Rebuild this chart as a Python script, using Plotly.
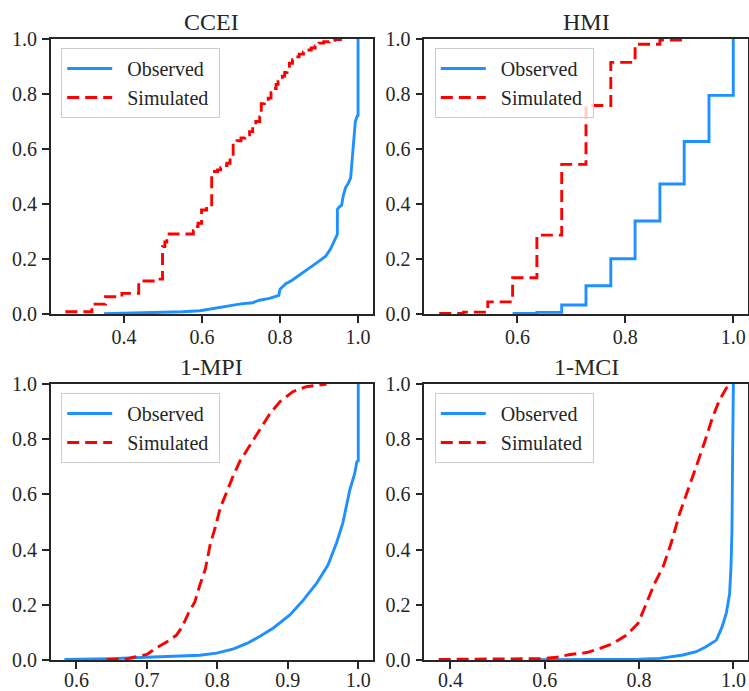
import plotly.graph_objects as go

W, H = 749, 691

# ---------------- data ----------------
titles = ["CCEI", "HMI", "1-MPI", "1-MCI"]
series_names = ["Observed", "Simulated"]

ccei_obs_x = [0.349, 0.45, 0.55, 0.595, 0.62, 0.66, 0.68, 0.70, 0.73, 0.747, 0.773, 0.797, 0.800,
              0.815, 0.83, 0.849, 0.866, 0.883, 0.90, 0.917, 0.93, 0.938, 0.947, 0.947, 0.951,
              0.958, 0.962, 0.968, 0.975, 0.981, 0.985, 0.989, 0.993, 0.998, 1.0, 1.0]
ccei_obs_y = [0.001, 0.004, 0.008, 0.012, 0.018, 0.027, 0.033, 0.037, 0.041, 0.050, 0.057, 0.068, 0.090,
              0.110, 0.122, 0.140, 0.157, 0.175, 0.192, 0.210, 0.238, 0.265, 0.290, 0.380, 0.388,
              0.396, 0.430, 0.460, 0.475, 0.495, 0.560, 0.650, 0.700, 0.720, 0.722, 1.0]

ccei_sim_x = [0.250, 0.318, 0.353, 0.395, 0.438, 0.475, 0.499, 0.505, 0.510, 0.516, 0.578, 0.585,
              0.590, 0.599, 0.612, 0.625, 0.632, 0.640, 0.648, 0.656, 0.664, 0.672, 0.680, 0.690,
              0.700, 0.710, 0.722, 0.730, 0.738, 0.748, 0.752, 0.760, 0.770, 0.777, 0.783, 0.790,
              0.795, 0.800, 0.806, 0.812, 0.818, 0.824, 0.832, 0.840, 0.849, 0.860, 0.870, 0.880,
              0.890, 0.900, 0.912, 0.926, 0.940, 0.955]
ccei_sim_y = [0.008, 0.036, 0.063, 0.075, 0.120, 0.127, 0.245, 0.262, 0.275, 0.291, 0.303, 0.318,
              0.330, 0.378, 0.392, 0.512, 0.518, 0.524, 0.532, 0.540, 0.548, 0.560, 0.620, 0.630,
              0.640, 0.652, 0.663, 0.680, 0.700, 0.717, 0.765, 0.775, 0.785, 0.805, 0.820, 0.835,
              0.845, 0.852, 0.865, 0.878, 0.895, 0.912, 0.925, 0.935, 0.945, 0.953, 0.960, 0.967,
              0.975, 0.985, 0.990, 0.995, 0.998, 1.000]

hmi_obs_x = [0.591, 0.636, 0.682, 0.727, 0.773, 0.818, 0.864, 0.909, 0.955, 1.0]
hmi_obs_y = [0.002, 0.006, 0.033, 0.103, 0.201, 0.338, 0.473, 0.627, 0.795, 1.0]

hmi_sim_x = [0.455, 0.500, 0.545, 0.591, 0.636, 0.682, 0.727, 0.773, 0.818, 0.864, 0.909]
hmi_sim_y = [0.002, 0.007, 0.044, 0.132, 0.287, 0.544, 0.758, 0.915, 0.981, 0.996, 1.0]

mpi_obs_x = [0.583, 0.65, 0.70, 0.738, 0.775, 0.799, 0.823, 0.842, 0.860, 0.879, 0.903, 0.922,
             0.941, 0.957, 0.969, 0.978, 0.982, 0.988, 0.995, 0.998, 1.0, 1.0]
mpi_obs_y = [0.002, 0.005, 0.010, 0.013, 0.017, 0.025, 0.040, 0.060, 0.085, 0.115, 0.163, 0.217,
             0.278, 0.344, 0.423, 0.495, 0.543, 0.616, 0.676, 0.718, 0.722, 1.0]

mpi_sim_x = [0.643, 0.672, 0.681, 0.700, 0.714, 0.728, 0.742, 0.750, 0.759, 0.768, 0.775, 0.783,
             0.790, 0.797, 0.804, 0.813, 0.823, 0.832, 0.842, 0.851, 0.860, 0.875, 0.889, 0.907,
             0.926, 0.941, 0.952, 0.955]
mpi_sim_y = [0.002, 0.004, 0.010, 0.020, 0.045, 0.065, 0.090, 0.120, 0.170, 0.210, 0.270, 0.330,
             0.420, 0.480, 0.550, 0.610, 0.670, 0.720, 0.760, 0.800, 0.833, 0.894, 0.936, 0.972,
             0.990, 0.994, 0.997, 1.0]

mci_obs_x = [0.59, 0.70, 0.80, 0.844, 0.865, 0.893, 0.921, 0.942, 0.964, 0.976, 0.985, 0.992,
             0.995, 0.997, 0.9985, 1.0]
mci_obs_y = [0.001, 0.002, 0.003, 0.006, 0.012, 0.018, 0.030, 0.048, 0.072, 0.120, 0.170, 0.240,
             0.340, 0.470, 0.770, 1.0]

mci_sim_x = [0.375, 0.50, 0.597, 0.625, 0.654, 0.689, 0.717, 0.745, 0.773, 0.798, 0.816, 0.833,
             0.851, 0.868, 0.886, 0.904, 0.921, 0.939, 0.956, 0.970, 0.985, 0.997]
mci_sim_y = [0.002, 0.003, 0.005, 0.010, 0.020, 0.027, 0.042, 0.060, 0.090, 0.133, 0.205, 0.278,
             0.338, 0.423, 0.531, 0.616, 0.700, 0.790, 0.880, 0.940, 0.985, 1.0]

x_ticks = [[0.4, 0.6, 0.8, 1.0], [0.6, 0.8, 1.0], [0.6, 0.7, 0.8, 0.9, 1.0], [0.4, 0.6, 0.8, 1.0]]
y_ticks = [0.0, 0.2, 0.4, 0.6, 0.8, 1.0]

# ---------------- styling / layout ----------------
FONT = "Liberation Serif"
TXT = "#262626"
BLUE = "#1E90FF"
RED = "#FF0000"

panels = [
    (ccei_obs_x, ccei_obs_y, ccei_sim_x, ccei_sim_y, "hv_sim"),
    (hmi_obs_x, hmi_obs_y, hmi_sim_x, hmi_sim_y, "hv_both"),
    (mpi_obs_x, mpi_obs_y, mpi_sim_x, mpi_sim_y, "linear"),
    (mci_obs_x, mci_obs_y, mci_sim_x, mci_sim_y, "linear"),
]
x_ranges = [[0.2125, 1.0375], [0.4273, 1.0273], [0.5635, 1.0205], [0.3445, 1.031]]

# pixel boxes of the plotting areas (left, right, top, bottom)
boxes = [(50.7, 372.7, 39, 314), (424.3, 748.0, 39, 314),
         (50.7, 372.7, 384, 660), (424.3, 748.0, 384, 660)]
x_label_standoff = [-3, -3, -6, -6]

NB = "\u00a0\u00a0"

fig = go.Figure()
layout = dict(
    template="none",
    width=W, height=H, margin=dict(l=0, r=0, t=0, b=0, pad=0), autosize=False,
    paper_bgcolor="white", plot_bgcolor="white",
    font=dict(family=FONT, color=TXT, size=20),
    annotations=[],
)

for i, (ox, oy, sx, sy, mode) in enumerate(panels):
    n = "" if i == 0 else str(i + 1)
    xa, ya = "x" + n, "y" + n
    lg = "legend" + n
    l, r, t, b = boxes[i]
    obs_shape = "hv" if mode == "hv_both" else "linear"
    sim_shape = "hv" if mode in ("hv_both", "hv_sim") else "linear"
    fig.add_trace(go.Scatter(x=ox, y=oy, mode="lines", name=NB + series_names[0],
                             line=dict(color=BLUE, width=2.9, shape=obs_shape),
                             xaxis=xa, yaxis=ya, legend=lg))
    fig.add_trace(go.Scatter(x=sx, y=sy, mode="lines", name=NB + series_names[1] + "\u00a0",
                             line=dict(color=RED, width=2.9, shape=sim_shape, dash="12px,6px"),
                             xaxis=xa, yaxis=ya, legend=lg))
    axstyle = dict(showline=True, linecolor=TXT, linewidth=1.6, mirror=True, automargin=False,
                   showgrid=False, zeroline=False, ticks="outside", ticklen=7,
                   tickwidth=1.5, tickcolor=TXT, tickformat=".1f",
                   tickfont=dict(family=FONT, size=20, color=TXT))
    layout["xaxis" + n] = dict(axstyle, domain=[l / W, r / W], range=x_ranges[i],
                               tickmode="array", tickvals=x_ticks[i], anchor=ya,
                               ticklabelstandoff=x_label_standoff[i])
    layout["yaxis" + n] = dict(axstyle, domain=[1 - b / H, 1 - t / H], range=[0, 1],
                               tickmode="array", tickvals=y_ticks, anchor=xa,
                               ticklabelstandoff=1)
    layout[lg] = dict(x=(l + 10.5) / W, y=1 - (t + 9) / H, xanchor="left", yanchor="top",
                      bgcolor="rgba(255,255,255,0.8)", bordercolor="#cccccc", borderwidth=1,
                      font=dict(family=FONT, size=20, color=TXT), itemwidth=45,
                      tracegroupgap=0)
    layout["annotations"].append(dict(
        text=titles[i], x=(l + r) / 2 / W, y=1 - (t - 17) / H, xref="paper", yref="paper",
        xanchor="center", yanchor="middle", showarrow=False,
        font=dict(family=FONT, size=24, color=TXT)))

fig.update_layout(**layout)
fig.write_html("out.html", config={"displayModeBar": False},
               post_script="document.body.style.margin='0';document.body.style.padding='0';")
